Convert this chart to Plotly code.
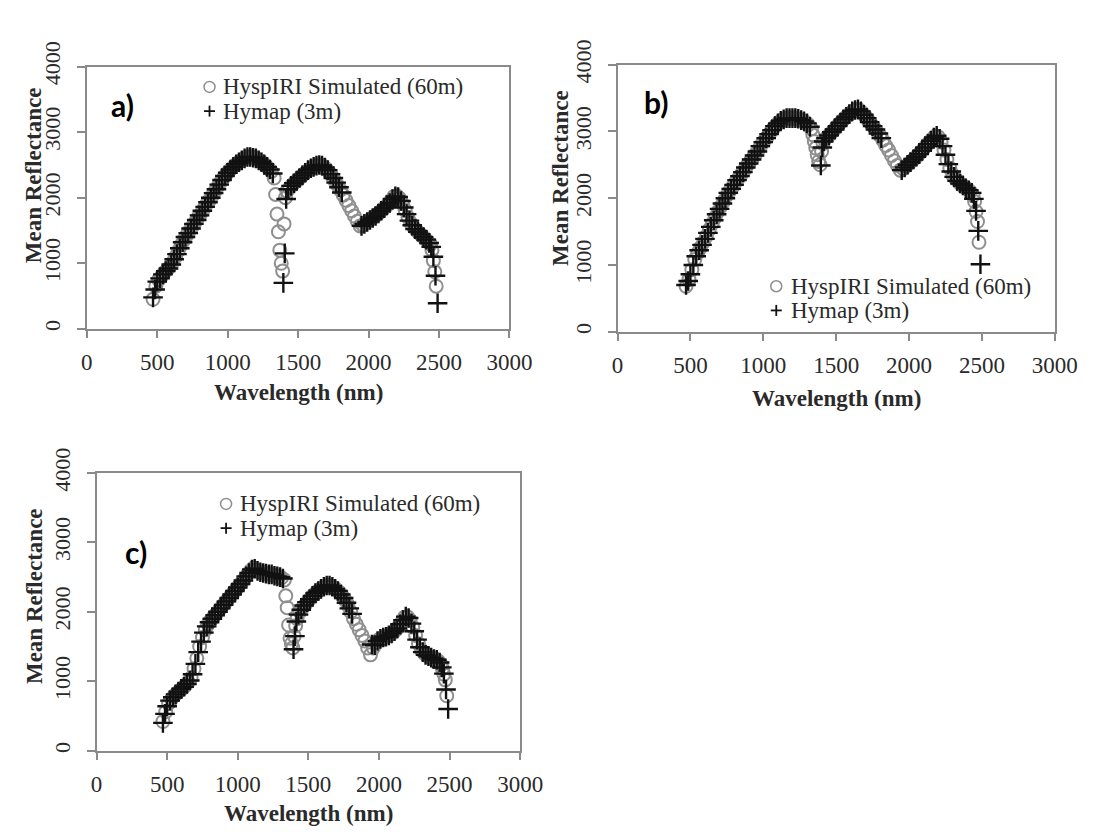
import plotly.graph_objects as go

# ---------------- data ----------------
wavelength_hyspiri = [
    470, 490, 510, 530, 550, 570, 590, 610, 630, 650, 670, 690, 710, 730, 750, 770, 790, 810, 830, 850,
    870, 890, 910, 930, 950, 970, 990, 1010, 1030, 1050, 1070, 1090, 1110, 1130, 1150, 1170, 1190, 1210,
    1230, 1250, 1270, 1290, 1310,
    1330, 1340, 1350, 1360, 1370, 1380, 1390, 1400, 1410, 1420,
    1440, 1460, 1480, 1500, 1520, 1540, 1560, 1580, 1600, 1620, 1640, 1660, 1680, 1700, 1720, 1740, 1760,
    1780, 1800, 1820, 1840, 1860, 1880, 1900, 1920, 1940, 1960, 1980, 2000, 2020, 2040, 2060, 2080, 2100,
    2120, 2140, 2160, 2180, 2200, 2220, 2240, 2260, 2280, 2300, 2320, 2340, 2360, 2380, 2400, 2420, 2440,
    2450, 2460, 2470, 2480]

wavelength_hymap = [
    470, 485, 500, 520, 540, 560, 580, 600, 620, 640, 660, 680, 700, 720, 740, 760, 780, 800, 820, 840,
    860, 880, 900, 920, 940, 960, 980, 1000, 1020, 1040, 1060, 1080, 1100, 1120, 1140, 1160, 1180, 1200,
    1220, 1240, 1260, 1280, 1300, 1320,
    1395, 1405, 1415,
    1430, 1450, 1470, 1490, 1510, 1530, 1550, 1570, 1590, 1610, 1630, 1650, 1670, 1690, 1710, 1730, 1750,
    1770, 1790, 1810,
    1950, 1970, 1990, 2010, 2030, 2050, 2070, 2090, 2110, 2130, 2150, 2170, 2190, 2210, 2230, 2250, 2270,
    2290, 2310, 2330, 2350, 2370, 2390, 2410, 2430,
    2445, 2460, 2475, 2490]

a_hyspiri = [
    450, 650, 750, 800, 860, 900, 950, 1020, 1100, 1190, 1280, 1360, 1430, 1500, 1560, 1630, 1700, 1760, 1830, 1900,
    1960, 2030, 2100, 2170, 2240, 2300, 2360, 2410, 2450, 2490, 2530, 2560, 2590, 2610, 2620, 2620, 2610, 2590,
    2560, 2530, 2490, 2450, 2400,
    2300, 2050, 1750, 1480, 1200, 1000, 880, 1600, 2000, 2100,
    2150, 2200, 2240, 2280, 2320, 2360, 2400, 2430, 2460, 2480, 2500, 2500, 2480, 2440, 2390, 2330, 2260,
    2190, 2120, 2040, 1960, 1880, 1800, 1720, 1640, 1570, 1580, 1620, 1650, 1680, 1710, 1740, 1780, 1820,
    1860, 1900, 1960, 2020, 2030, 1990, 1910, 1810, 1700, 1610, 1550, 1500, 1460, 1420, 1380, 1330, 1290,
    1200, 1040, 870, 650]

a_hymap = [
    480, 600, 720, 770, 830, 880, 920, 980, 1060, 1140, 1230, 1320, 1400, 1460, 1530, 1600, 1660, 1730, 1800, 1860,
    1930, 2000, 2070, 2130, 2200, 2270, 2330, 2380, 2430, 2470, 2510, 2540, 2570, 2600, 2620, 2620, 2610, 2600,
    2570, 2540, 2510, 2470, 2430, 2370,
    700, 1150, 1980,
    2130, 2180, 2220, 2260, 2300, 2340, 2380, 2420, 2450, 2470, 2490, 2500, 2490, 2460, 2420, 2360, 2300,
    2230, 2160, 2080,
    1570, 1600, 1630, 1660, 1690, 1720, 1760, 1800, 1840, 1880, 1920, 1980, 2020, 2010, 1950, 1850, 1750,
    1650, 1580, 1520, 1480, 1440, 1400, 1360, 1310,
    1250, 1100, 810, 390]

b_hyspiri = [
    680, 780, 930, 1080, 1180, 1260, 1340, 1430, 1530, 1620, 1710, 1800, 1880, 1960, 2040, 2110, 2170, 2240, 2300, 2360,
    2420, 2490, 2550, 2610, 2670, 2740, 2810, 2870, 2930, 2990, 3050, 3100, 3140, 3170, 3190, 3200, 3200, 3200,
    3190, 3180, 3160, 3140, 3100,
    3040, 2950, 2850, 2750, 2650, 2550, 2500, 2700, 2820, 2880,
    2920, 2960, 3010, 3060, 3110, 3160, 3200, 3240, 3280, 3310, 3330, 3320, 3280, 3230, 3170, 3110, 3060,
    3000, 2940, 2870, 2790, 2720, 2640, 2560, 2490, 2420, 2440, 2480, 2520, 2560, 2600, 2640, 2690, 2740,
    2790, 2840, 2890, 2930, 2920, 2840, 2720, 2580, 2450, 2350, 2290, 2240, 2200, 2170, 2140, 2100, 2040,
    1950, 1800, 1650, 1340]

b_hymap = [
    700, 760, 860, 1000, 1130, 1220, 1300, 1390, 1480, 1570, 1670, 1760, 1840, 1920, 2000, 2080, 2140, 2200, 2270, 2330,
    2390, 2460, 2520, 2580, 2640, 2700, 2780, 2840, 2900, 2960, 3020, 3080, 3120, 3160, 3180, 3200, 3200, 3200,
    3200, 3190, 3170, 3150, 3120, 3070,
    2490, 2760, 2850,
    2900, 2940, 2990, 3030, 3080, 3130, 3180, 3220, 3260, 3300, 3320, 3330, 3300, 3250, 3200, 3140, 3080,
    3030, 2970, 2900,
    2420, 2460, 2500, 2540, 2580, 2620, 2660, 2710, 2760, 2810, 2860, 2910, 2935, 2890, 2780, 2650, 2510,
    2400, 2320, 2260, 2220, 2190, 2150, 2120, 2080,
    1990, 1810, 1510, 1010]

c_hyspiri = [
    420, 560, 680, 740, 790, 830, 870, 900, 940, 990, 1050, 1180, 1330, 1500, 1630, 1740, 1820, 1880, 1930, 1980,
    2030, 2080, 2130, 2180, 2230, 2280, 2330, 2380, 2430, 2480, 2540, 2590, 2630, 2600, 2580, 2570, 2560, 2550,
    2540, 2530, 2520, 2500, 2490,
    2460, 2230, 2060, 1810, 1620, 1540, 1480, 1650, 1800, 1900,
    2000, 2060, 2110, 2160, 2210, 2250, 2290, 2320, 2350, 2370, 2380, 2370, 2350, 2320, 2280, 2230, 2170,
    2100, 2000, 1900, 1820, 1740, 1660, 1580, 1480, 1380, 1480, 1560, 1600, 1620, 1640, 1650, 1670, 1700,
    1740, 1790, 1850, 1920, 1930, 1880, 1780, 1660, 1540, 1450, 1400, 1370, 1350, 1330, 1320, 1290, 1240,
    1180, 1100, 1020, 790]

c_hymap = [
    400, 530, 640, 720, 770, 810, 850, 890, 920, 960, 1010, 1100, 1250, 1420, 1570, 1700, 1790, 1850, 1900, 1950,
    2000, 2050, 2100, 2150, 2200, 2250, 2300, 2350, 2400, 2450, 2510, 2560, 2610, 2620, 2590, 2570, 2560, 2550,
    2540, 2540, 2520, 2510, 2500, 2480,
    1460, 1650, 1860,
    1960, 2030, 2090, 2140, 2180, 2230, 2270, 2300, 2330, 2360, 2380, 2380, 2360, 2330, 2300, 2250, 2200,
    2130, 2050, 1970,
    1530, 1520, 1580, 1610, 1630, 1640, 1660, 1690, 1720, 1760, 1820, 1880, 1930, 1910, 1830, 1720, 1600,
    1490, 1420, 1380, 1360, 1340, 1320, 1310, 1270,
    1200, 1110, 880, 600]

panel_labels = ["a)", "b)", "c)"]
legend_names = ["HyspIRI Simulated (60m)", "Hymap (3m)"]
x_title = "Wavelength (nm)"
y_title = "Mean Reflectance"

# ---------------- layout helpers (pixel -> paper) ----------------
W, H = 1106, 832
def px(x):
    return x / W
def py(y):
    return 1 - y / H

# plot-area boxes in pixels: left, right, top, bottom
boxes = [(83, 517, 43, 314), (628, 1077, 41, 317), (93, 528, 463, 750)]
series = [(a_hyspiri, a_hymap), (b_hyspiri, b_hymap), (c_hyspiri, c_hymap)]

GRAY = "#8f8f8f"
AXIS = "#8a8a8a"
TXT = "#2a2a2a"
SERIF = "Liberation Serif"

fig = go.Figure()
for i, (hys, hym) in enumerate(series):
    sfx = "" if i == 0 else str(i + 1)
    fig.add_trace(go.Scatter(
        x=wavelength_hyspiri, y=hys, mode="markers", name=legend_names[0],
        xaxis="x" + sfx, yaxis="y" + sfx, showlegend=False,
        marker=dict(symbol="circle-open", size=13, color=GRAY, line=dict(width=2, color=GRAY))))
    fig.add_trace(go.Scatter(
        x=wavelength_hymap, y=hym, mode="markers", name=legend_names[1],
        xaxis="x" + sfx, yaxis="y" + sfx, showlegend=False,
        marker=dict(symbol="cross-thin-open", size=14, color="#111111", line=dict(width=2.4, color="#111111"))))

layout = dict(width=W, height=H, margin=dict(l=0, r=0, t=0, b=0),
              paper_bgcolor="white", plot_bgcolor="white", showlegend=False)

annotations = []
shapes = []
legend_pos = [(209, 221, 64, 89), (791, 804, 270, 295), (226, 238, 495, 520)]
label_pos = [(120, 83), (668, 80), (134, 545)]
ytitle_pos = [(29, 155), (570, 158), (30, 590)]
xtitle_y = [380, 386, 815]

for i, (l, r, t, b) in enumerate(boxes):
    sfx = "" if i == 0 else str(i + 1)
    layout["xaxis" + sfx] = dict(
        domain=[px(l), px(r)], range=[0, 3000], dtick=500, tick0=0, anchor="y" + sfx,
        ticks="outside", ticklen=7, tickwidth=2, tickcolor=AXIS,
        showline=True, linecolor=AXIS, linewidth=2, mirror=True,
        showgrid=False, zeroline=False, ticklabelstandoff=5,
        tickfont=dict(family=SERIF, size=23, color=TXT))
    layout["yaxis" + sfx] = dict(
        domain=[py(b), py(t)], range=[0, 4000], dtick=1000, tick0=0, anchor="x" + sfx,
        ticks="outside", ticklen=8, tickwidth=2, tickcolor=AXIS,
        showline=True, linecolor=AXIS, linewidth=2, mirror=True,
        showgrid=False, zeroline=False, tickangle=-90, ticklabelstandoff=8,
        tickfont=dict(family=SERIF, size=22, color=TXT))

    # axis titles
    annotations.append(dict(
        x=px((l + r) / 2), y=py(xtitle_y[i]), xref="paper", yref="paper", showarrow=False,
        text="<b>" + x_title + "</b>", font=dict(family=SERIF, size=23, color=TXT),
        xanchor="center", yanchor="middle"))
    annotations.append(dict(
        x=px(ytitle_pos[i][0]), y=py(ytitle_pos[i][1]), xref="paper", yref="paper", showarrow=False,
        text="<b>" + y_title + "</b>", textangle=-90, font=dict(family=SERIF, size=23, color=TXT),
        xanchor="center", yanchor="middle"))
    # panel label
    annotations.append(dict(
        x=px(label_pos[i][0]), y=py(label_pos[i][1]), xref="paper", yref="paper", showarrow=False,
        text="<b>" + panel_labels[i] + "</b>", font=dict(family="Lato", size=30, color="black"),
        xanchor="center", yanchor="middle"))
    # custom legend
    sx, tx, y1, y2 = legend_pos[i]
    for k, yy in enumerate((y1, y2)):
        annotations.append(dict(
            x=px(tx), y=py(yy), xref="paper", yref="paper", showarrow=False,
            text=legend_names[k], font=dict(family=SERIF, size=23, color=TXT),
            xanchor="left", yanchor="middle"))
    shapes.append(dict(type="circle", xref="paper", yref="paper",
                       xsizemode="pixel", ysizemode="pixel", xanchor=px(sx), yanchor=py(y1),
                       x0=-5.5, x1=5.5, y0=-5.5, y1=5.5, line=dict(color=GRAY, width=1.5)))
    shapes.append(dict(type="line", xref="paper", yref="paper",
                       xsizemode="pixel", ysizemode="pixel", xanchor=px(sx), yanchor=py(y2),
                       x0=-5.5, x1=5.5, y0=0, y1=0, line=dict(color="#111111", width=1.8)))
    shapes.append(dict(type="line", xref="paper", yref="paper",
                       xsizemode="pixel", ysizemode="pixel", xanchor=px(sx), yanchor=py(y2),
                       x0=0, x1=0, y0=-5.5, y1=5.5, line=dict(color="#111111", width=1.8)))

layout["annotations"] = annotations
layout["shapes"] = shapes
fig.update_layout(**layout)
fig.write_html("out.html", config={"displayModeBar": False, "staticPlot": True},
               post_script="document.body.style.margin='0px';document.body.style.overflow='hidden';")
